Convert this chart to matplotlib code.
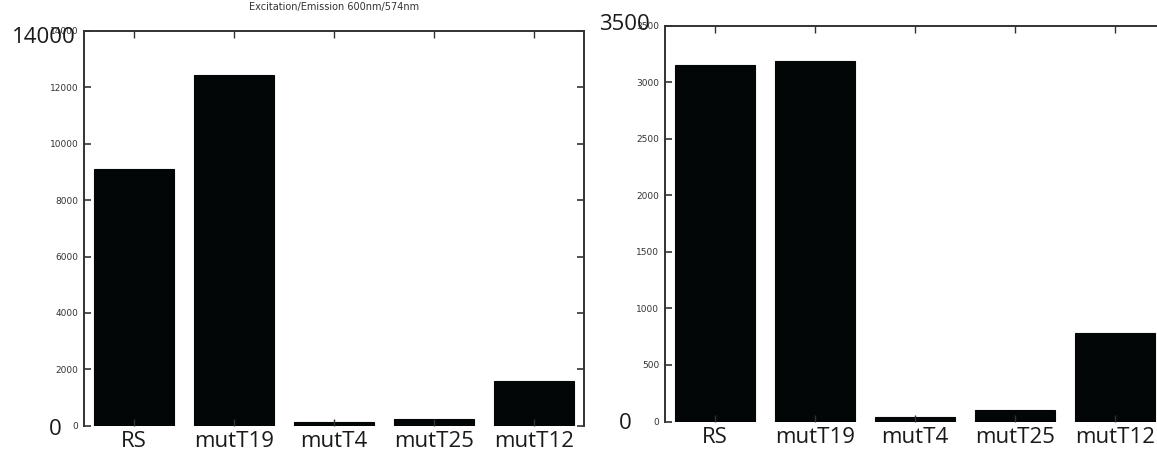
import matplotlib
matplotlib.use("Agg")
import matplotlib.pyplot as plt
from matplotlib.transforms import offset_copy

# Fluorescence readings per strain
strains = ["RS", "mutT19", "mutT4", "mutT25", "mutT12"]
left_values = [9090, 12450, 120, 250, 1595]
right_values = [3150, 3188, 42, 106, 780]

left_yticks = [0, 2000, 4000, 6000, 8000, 10000, 12000, 14000]
right_yticks = [0, 500, 1000, 1500, 2000, 2500, 3000, 3500]

title_text = "Excitation/Emission 600nm/574nm"

W, H = 1157, 455
fig = plt.figure(figsize=(W / 100, H / 100), dpi=100)

small_font = ["Liberation Sans Narrow", "DejaVu Sans"]
big_font = ["Open Sans", "DejaVu Sans"]


def px_axes(x0, x1, ytop, ybot):
    return fig.add_axes([x0 / W, (H - ybot) / H, (x1 - x0) / W, (ybot - ytop) / H])


def style_axes(ax, values, yticks):
    pos = list(range(1, len(strains) + 1))
    ax.bar(pos, values, width=0.8, color="#030607", edgecolor="#030607", linewidth=0.8)
    ax.set_xlim(0.5, len(strains) + 0.5)
    ax.set_ylim(yticks[0], yticks[-1])
    ax.set_yticks(yticks)
    ax.set_yticklabels([str(t) for t in yticks], fontsize=6.5, family=small_font,
                       color="#333333")
    ax.set_xticks(pos)
    ax.set_xticklabels(strains, fontsize=16, family=big_font, color="#1a1a1a")
    ax.tick_params(axis="y", direction="in", length=5, width=1.2, left=True, right=True,
                   pad=4, color="#333333")
    ax.tick_params(axis="x", direction="in", length=5, width=1.0, top=True, bottom=True,
                   pad=4, color="#333333")
    for side in ("left", "top", "right"):
        ax.spines[side].set_linewidth(1.4)
        ax.spines[side].set_color("#333333")
    ax.spines["bottom"].set_visible(False)
    ax.set_zorder(1)


def big_label(ax, xfrac, yval, dy_pts):
    tr = offset_copy(ax.get_yaxis_transform(), fig=fig, x=0, y=dy_pts, units="points")
    ax.text(xfrac, yval, str(yval), transform=tr, ha="right", va="center",
            fontsize=16, family=big_font, color="#1a1a1a", clip_on=False)


# Left panel
axl = px_axes(84, 584, 30.9, 425.7)
style_axes(axl, left_values, left_yticks)
axl.set_title(title_text, fontsize=7, family=small_font, color="#333333", pad=15)
big_label(axl, -0.016, left_yticks[-1], -5)
big_label(axl, -0.044, left_yticks[0], -2.5)

# Right panel (extends past the figure edge)
axr = px_axes(665, 1165, 25.8, 421.5)
style_axes(axr, right_values, right_yticks)
big_label(axr, -0.03, right_yticks[-1], 1)
big_label(axr, -0.066, right_yticks[0], -1.5)

fig.savefig("out.png", dpi=100)
